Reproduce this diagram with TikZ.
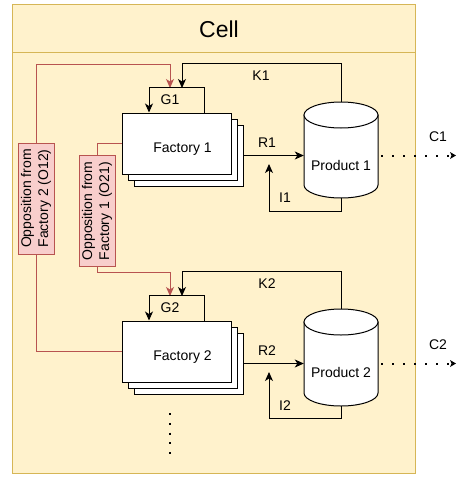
\documentclass[tikz,border=0pt]{standalone}
\usepackage{fontspec}
\setmainfont{Liberation Sans}
\usetikzlibrary{arrows.meta,shadows,calc}
\definecolor{cellfill}{HTML}{FFF2CC}
\definecolor{cellline}{HTML}{D6B656}
\definecolor{oppfill}{HTML}{F8CECC}
\definecolor{oppline}{HTML}{B85450}
\begin{document}
\begin{tikzpicture}[x=1pt,y=-1pt,
  every node/.style={font=\fontsize{14}{17}\selectfont},
  arr/.style={-{Stealth[length=9pt,width=8pt,inset=2.5pt]}},
  smallarr/.style={-{Stealth[length=6pt,width=7pt,inset=1.5pt,line width=0pt]}},
  conn/.style={line width=1pt,draw=black},
  opp/.style={line width=1pt,draw=oppline},
  dots/.style={line width=2pt,dash pattern=on 2pt off 9pt},
  factory/.style={draw,fill=white,line width=1pt,minimum width=109pt,minimum height=61pt,inner sep=0pt,
    double copy shadow={shadow xshift=6pt,shadow yshift=-6pt,fill=white,draw=black,line width=1pt}},
  oppbox/.style={draw=oppline,fill=oppfill,line width=1pt,rotate=90,minimum width=111pt,minimum height=36pt,inner sep=0pt,align=center},
  lab/.style={inner sep=0pt},
  bound/.style={inner sep=0pt,minimum width=74pt,minimum height=96pt}
]
\useasboundingbox (0,0) rectangle (457,477);
% cell container
\node[draw=cellline,fill=cellfill,line width=1pt,minimum width=403pt,minimum height=469pt,inner sep=0pt] (cell) at (213.5,238.5) {};
\draw[cellline,line width=1pt] (12,52) -- (415,52);
\node[font=\fontsize{23}{26}\selectfont] (celltitle) at (219,29) {Cell};

% factories
\node[factory] (f1) at (176.5,143.5) {};
\node[lab] (f1t) at (182.5,149.5) {Factory 1};
\node[factory] (f2) at (176.5,351.5) {};
\node[lab] (f2t) at (182.5,357.5) {Factory 2};

% cylinders
\draw[line width=1pt,fill=white] (304,115) -- (304,185) arc[start angle=180,end angle=0,x radius=37,y radius=13] -- (378,115) -- cycle;
\draw[line width=1pt,fill=white] (341,115) ellipse[x radius=37,y radius=13];
\node[bound] (p1) at (341,150) {};
\node[lab] (p1t) at (341,165) {Product 1};
\draw[line width=1pt,fill=white] (304,322) -- (304,393) arc[start angle=180,end angle=0,x radius=37,y radius=13] -- (378,322) -- cycle;
\draw[line width=1pt,fill=white] (341,322) ellipse[x radius=37,y radius=13];
\node[bound,minimum height=97pt] (p2) at (341,357.5) {};
\node[lab] (p2t) at (341,372) {Product 2};

% coordinates
\coordinate (g1r) at (170,88);
\coordinate (g1k) at (182,88);
\coordinate (g2r) at (170,296);
\coordinate (g2k) at (182,296);
\coordinate (o12t) at (36,64);
\coordinate (o21b) at (97,272);
\coordinate (r1s) at ($(f1.east)+(12,12)$);
\coordinate (r2s) at ($(f2.east)+(12,12)$);
\coordinate (i1t) at (269,164);
\coordinate (i2t) at (269,372);
\coordinate (c1e) at (456,155.5);
\coordinate (c2e) at (456,363.5);

% opposition lines and boxes
\node[oppbox] (o12) at (36,198.5) {Opposition from\\Factory 2 (O12)};
\node[oppbox] (o21) at (97,211) {Opposition from\\Factory 1 (O21)};
\draw[opp] (f2.west) -| (o12.west);
\draw[opp,arr,oppline] (o12.east) -- (o12t) -| (g1r);
\draw[opp] (f1.west) -| (o21.east);
\draw[opp,arr,oppline] (o21.west) -- (o21b) -| (g2r);

% G loops
\draw[conn,arr] ($(f1.north)+(27.5,0)$) -- ++(0,-25) -| ($(f1.north)+(-27.5,0)$);
\node[lab] (g1l) at (170,100) {G1};
\draw[conn,arr] ($(f2.north)+(27.5,0)$) -- ++(0,-25) -| ($(f2.north)+(-27.5,0)$);
\node[lab] (g2l) at (170,308) {G2};

% K loops
\draw[conn,arr] (p1.north) -- ++(0,-38) -| (g1k);
\node[lab] (k1l) at (261,76) {K1};
\draw[conn,arr] (p2.north) -- ++(0,-37) -| (g2k);
\node[lab] (k2l) at (267,284) {K2};

% R arrows
\draw[conn,arr] (r1s) -- (r1s -| p1.west);
\node[lab] (r1l) at (267,143) {R1};
\draw[conn,arr] (r2s) -- (r2s -| p2.west);
\node[lab] (r2l) at (267,351) {R2};

% I loops
\draw[conn,arr] (p1.south) -- ++(0,13) -| (i1t);
\node[lab] (i1l) at (285,198) {I1};
\draw[conn,arr] (p2.south) -- ++(0,12) -| (i2t);
\node[lab] (i2l) at (285,406) {I2};

% C outputs
\draw[dots,smallarr] (r1s -| p1.east) ++(3,0) -- (c1e);
\node[lab] (c1l) at (438,137) {C1};
\draw[dots,smallarr] (r2s -| p2.east) ++(3,0) -- (c2e);
\node[lab] (c2l) at (438,345) {C2};

% vertical dots
\draw[dots,dash pattern=on 2pt off 7.75pt] (170,413) -- (170,454.5);
\end{tikzpicture}
\end{document}
